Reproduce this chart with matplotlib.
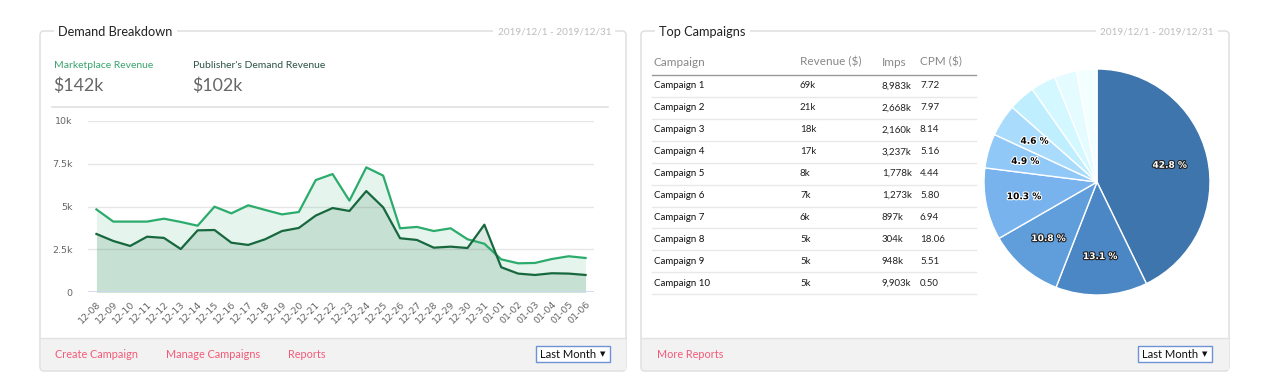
import math
import matplotlib
matplotlib.use("Agg")
import matplotlib.pyplot as plt
import matplotlib.patheffects as pe
from matplotlib.patches import FancyBboxPatch, Rectangle

# ---------------- data ----------------
dates = ["12-08", "12-09", "12-10", "12-11", "12-12", "12-13", "12-14", "12-15",
         "12-16", "12-17", "12-18", "12-19", "12-20", "12-21", "12-22", "12-23",
         "12-24", "12-25", "12-26", "12-27", "12-28", "12-29", "12-30", "12-31",
         "01-01", "01-02", "01-03", "01-04", "01-05", "01-06"]
marketplace = [4830, 4120, 4120, 4120, 4290, 4100, 3880, 4990, 4600, 5070,
               4800, 4540, 4680, 6540, 6890, 5340, 7280, 6800, 3730, 3810,
               3570, 3730, 3090, 2830, 1920, 1690, 1710, 1940, 2100, 2000]
publisher = [3400, 2990, 2700, 3240, 3170, 2520, 3610, 3630, 2890, 2760,
             3090, 3570, 3750, 4470, 4910, 4740, 5900, 4950, 3150, 3050,
             2600, 2660, 2580, 3940, 1460, 1090, 1010, 1110, 1090, 1010]
y_ticks = [0, 2500, 5000, 7500, 10000]
y_tick_labels = ["0", "2.5k", "5k", "7.5k", "10k"]

campaigns = ["Campaign 1", "Campaign 2", "Campaign 3", "Campaign 4", "Campaign 5",
             "Campaign 6", "Campaign 7", "Campaign 8", "Campaign 9", "Campaign 10"]
revenue = ["69k", "21k", "18k", "17k", "8k", "7k", "6k", "5k", "5k", "5k"]
imps = ["8,983k", "2,668k", "2,160k", "3,237k", "1,778k", "1,273k", "897k",
        "304k", "948k", "9,903k"]
cpm = ["7.72", "7.97", "8.14", "5.16", "4.44", "5.80", "6.94", "18.06", "5.51", "0.50"]
pie_share = [42.8, 13.1, 10.8, 10.3, 4.9, 4.6, 3.8, 3.6, 3.2, 2.9]
pie_colors = ["#3e75ac", "#4c87c5", "#5f9edb", "#78b3ee", "#90c8f8", "#a9dcfc",
              "#bfeefe", "#d3f8ff", "#e4fcff", "#f3ffff"]

W, H = 1280, 390
FONT = "Lato"

fig = plt.figure(figsize=(W / 100, H / 100), dpi=100)
fig.patch.set_facecolor("white")
bg = fig.add_axes([0, 0, 1, 1])
bg.set_xlim(0, W)
bg.set_ylim(H, 0)
bg.axis("off")


def panel(x0, x1, y0, y1, title, links, link_x, sel_x):
    bg.add_patch(FancyBboxPatch((x0, y0), x1 - x0, y1 - y0,
                                boxstyle="round,pad=0,rounding_size=4",
                                facecolor="white", edgecolor="#dcdcdc", lw=1.0, zorder=1))
    bg.add_patch(Rectangle((x0 + 0.5, 338), x1 - x0 - 1, y1 - 338 - 1.5,
                           facecolor="#f2f2f2", edgecolor="none", zorder=2))
    bg.plot([x0, x1], [338, 338], color="#e2e2e2", lw=1, zorder=3)
    bg.text(x0 + 18, y0 + 1, title, fontsize=9.2, family=FONT, color="#222222",
            va="center", ha="left", zorder=4,
            bbox=dict(facecolor="white", edgecolor="none", pad=3))
    bg.text(x1 - 15, y0 + 1, "2019/12/1 - 2019/12/31", fontsize=7.2, family=FONT,
            color="#bdbdbd", va="center", ha="right", zorder=4,
            bbox=dict(facecolor="white", edgecolor="none", pad=3))
    for t, lx in zip(links, link_x):
        bg.text(lx, 354.5, t, fontsize=7.8, family=FONT, color="#f25a78",
                va="center", ha="left", zorder=4)
    bg.add_patch(Rectangle((sel_x, 346), 74, 16, facecolor="white",
                           edgecolor="#6d93d6", lw=1.0, zorder=4))
    bg.text(sel_x + 4, 354.5, "Last Month", fontsize=8, family=FONT,
            color="#111111", va="center", ha="left", zorder=5)
    bg.text(sel_x + 67, 354, "▼", fontsize=5, family="DejaVu Sans",
            color="#111111", va="center", ha="center", zorder=5)


panel(40, 626, 31, 371, "Demand Breakdown",
      ["Create Campaign", "Manage Campaigns", "Reports"], [55, 166, 288], 536)
panel(641, 1229, 31, 371, "Top Campaigns", ["More Reports"], [657], 1138)

# KPIs
bg.text(54, 65, "Marketplace Revenue", fontsize=7.5, family=FONT, color="#3aa56c",
        va="center", ha="left")
bg.text(193, 65, "Publisher's Demand Revenue", fontsize=7.5, family=FONT,
        color="#2c5447", va="center", ha="left")
bg.text(53, 86, "$142k", fontsize=12.8, family=FONT, color="#666666",
        va="center", ha="left")
bg.text(192, 86, "$102k", fontsize=12.8, family=FONT, color="#666666",
        va="center", ha="left")
bg.plot([52, 608], [106.5, 106.5], color="#e0e0e0", lw=1.2)

# ---------------- line / area chart ----------------
px0, px1, py_top, py_bot = 88, 594, 120.7, 292.3
ax = fig.add_axes([px0 / W, (H - py_bot) / H, (px1 - px0) / W, (py_bot - py_top) / H])
ax.set_facecolor("none")
x = list(range(len(dates)))
ax.fill_between(x, marketplace, 0, color="#2bab6c", alpha=0.12, lw=0, zorder=1)
ax.fill_between(x, publisher, 0, color="#17683d", alpha=0.14, lw=0, zorder=2)
ax.plot(x, marketplace, color="#2bab6c", lw=1.6, zorder=4)
ax.plot(x, publisher, color="#17683d", lw=1.6, zorder=5)
ax.set_xlim(-0.5, len(dates) - 0.5)
ax.set_ylim(0, 10000)
ax.set_yticks(y_ticks)
ax.set_yticklabels(y_tick_labels)
for t in y_ticks[1:]:
    ax.axhline(t, color="#e6e6e6", lw=1, zorder=0)
ax.axhline(0, color="#ccd6eb", lw=1.2, zorder=6)
ax.set_xticks(x)
ax.set_xticklabels(dates, rotation=45, ha="right", va="top", rotation_mode="anchor")
for s in ax.spines.values():
    s.set_visible(False)
ax.tick_params(axis="y", length=0, pad=11, labelsize=6.8, labelcolor="#666666")
ax.tick_params(axis="x", length=0, pad=5, labelsize=6.8, labelcolor="#666666")

# ---------------- table ----------------
hdr_y = 62
bg.text(654, hdr_y, "Campaign", fontsize=8.5, family=FONT, color="#888888", va="center")
bg.text(800, hdr_y, "Revenue ($)", fontsize=8.5, family=FONT, color="#888888", va="center")
bg.text(882, hdr_y, "Imps", fontsize=8.5, family=FONT, color="#888888", va="center")
bg.text(920, hdr_y, "CPM ($)", fontsize=8.5, family=FONT, color="#888888", va="center")
bg.plot([652, 976], [75, 75], color="#999999", lw=1)
row_h = 21.9
for i, name in enumerate(campaigns):
    yc = 86 + i * row_h
    bg.text(654, yc, name, fontsize=7, family=FONT, color="#111111", va="center")
    bg.text(800, yc, revenue[i], fontsize=7, family=FONT, color="#222222", va="center")
    bg.text(882, yc, imps[i], fontsize=7, family=FONT, color="#222222", va="center")
    bg.text(920, yc, cpm[i], fontsize=7, family=FONT, color="#222222", va="center")
    bg.plot([652, 976], [yc + 11, yc + 11], color="#e8e8e8", lw=1)

# ---------------- pie ----------------
cx, cy, r = 1097, 182, 113
pax = fig.add_axes([(cx - r) / W, (H - cy - r) / H, 2 * r / W, 2 * r / H])
wedges, _ = pax.pie(pie_share, colors=pie_colors, startangle=90, counterclock=False,
                    wedgeprops=dict(edgecolor="white", linewidth=1.0))
pax.set_xlim(-1, 1)
pax.set_ylim(-1, 1)
pax.set_aspect("auto")
cum = 0.0
for i, v in enumerate(pie_share):
    mid = cum + v / 2
    cum += v
    if v < 4.5:
        continue
    ang = math.radians(90 - mid * 3.6)
    rr = 0.66
    dark = i < 3
    pax.text(rr * math.cos(ang), rr * math.sin(ang), f"{v} %", fontsize=6.5,
             fontweight="bold", family="DejaVu Sans",
             color="white" if dark else "black", ha="center", va="center",
             path_effects=[pe.withStroke(linewidth=1.6,
                                         foreground="#222222" if dark else "white")])

fig.savefig("out.png", dpi=100, facecolor="white")
